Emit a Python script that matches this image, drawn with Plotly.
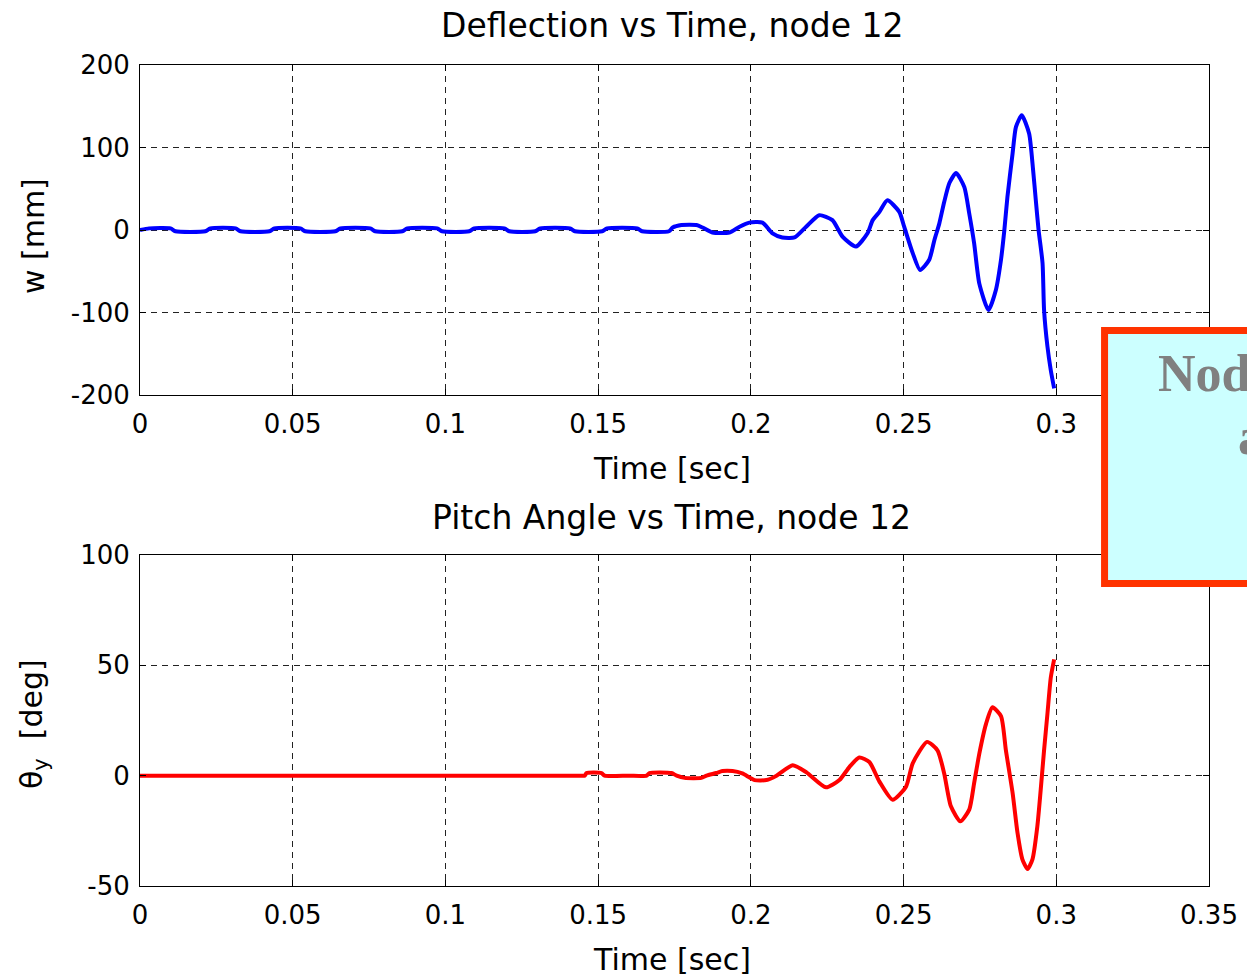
import plotly.graph_objects as go
from plotly.subplots import make_subplots

# ---- node 12 deflection w [mm] vs time [sec] ----
t_defl = [0.0000, 0.0030, 0.0100, 0.0116, 0.0214, 0.0230, 0.0313, 0.0329, 0.0424, 0.0440,
          0.0525, 0.0541, 0.0640, 0.0656, 0.0754, 0.0770, 0.0859, 0.0875, 0.0973, 0.0989,
          0.1078, 0.1094, 0.1193, 0.1209, 0.1294, 0.1310, 0.1408, 0.1424, 0.1513, 0.1529,
          0.1628, 0.1644, 0.1732, 0.1744, 0.1773, 0.1822, 0.1842, 0.1874, 0.1930, 0.1963,
          0.1995, 0.2038, 0.2071, 0.2103, 0.2143, 0.2181, 0.2224, 0.2267, 0.2300, 0.2344,
          0.2382, 0.2399, 0.2421, 0.2447, 0.2486, 0.2502, 0.2530, 0.2554, 0.2584, 0.2601,
          0.2617, 0.2633, 0.2650, 0.2672, 0.2699, 0.2715, 0.2731, 0.2748, 0.2778, 0.2802,
          0.2819, 0.2830, 0.2840, 0.2857, 0.2868, 0.2887, 0.2911, 0.2924, 0.2933, 0.2942,
          0.2955, 0.2960, 0.2971, 0.2982, 0.2993]
w_defl = [0, 2, 2, -1.5, -1.5, 2, 2, -1.5, -1.5, 2,
          2, -1.5, -1.5, 2, 2, -1.5, -1.5, 2, 2, -1.5,
          -1.5, 2, 2, -1.5, -1.5, 2, 2, -1.5, -1.5, 2,
          2, -1.5, -1.5, 3, 6, 6, 3, -3, -3, 4,
          9, 9, -4, -9, -9, 4, 18, 12, -8, -20,
          -4, 12, 22, 36, 22, 4, -28, -48.5, -36, -12,
          8, 34, 57, 69, 52, 20, -16, -65, -97, -73,
          -36, 0, 40, 93, 125, 139, 117, 73, 36, 0,
          -40, -97, -141, -170, -192]

# ---- node 12 pitch angle theta_y [deg] vs time [sec] ----
t_pitch = [0.0000, 0.0500, 0.1000, 0.1300, 0.1440, 0.1456, 0.1462, 0.1511, 0.1521, 0.1600,
           0.1659, 0.1668, 0.1740, 0.1757, 0.1783,
           0.1838, 0.1855, 0.1887, 0.1907, 0.1940, 0.1972, 0.2012, 0.2051, 0.2084, 0.2137,
           0.2182, 0.2246, 0.2290, 0.2323, 0.2355, 0.2388, 0.2421, 0.2464, 0.2508, 0.2530,
           0.2577, 0.2611, 0.2633, 0.2655, 0.2686, 0.2715, 0.2731, 0.2748, 0.2770, 0.2791,
           0.2819, 0.2835, 0.2857, 0.2873, 0.2889, 0.2906, 0.2922, 0.2938, 0.2949, 0.2960,
           0.2971, 0.2982, 0.2993]
theta_pitch = [0, 0, 0, 0, 0, 0, 1.2, 1.2, 0, 0,
               0, 1.2, 1.2, 0, -1,
               -1, 0, 1.2, 2.1, 2.1, 1, -2, -2, 0, 4.7,
               1.5, -5.3, -2, 4, 8.2, 6.2, -2.7, -10.9, -5, 5.6,
               15.3, 11.5, 1, -13.9, -20.7, -15.4, -3.4, 10, 23.5, 31,
               27, 11.5, -7.9, -25.9, -37.9, -42.3, -37.9, -22.9, -6.4, 11.5,
               28, 44.5, 52.7]

# ---- axis ticks ----
time_ticks = [0, 0.05, 0.1, 0.15, 0.2, 0.25, 0.3, 0.35]
time_labels = ["0", "0.05", "0.1", "0.15", "0.2", "0.25", "0.3", "0.35"]
# the last label of the upper time axis sits under the callout box
time_labels_upper = ["0", "0.05", "0.1", "0.15", "0.2", "0.25", "0.3", ""]
defl_ticks = [-200, -100, 0, 100, 200]
defl_labels = ["-200", "-100", "0", "100", "200"]
pitch_ticks = [-50, 0, 50, 100]
pitch_labels = ["-50", "0", "50", "100"]

FONT = "DejaVu Sans"

fig = make_subplots(rows=2, cols=1, vertical_spacing=0.1948)

fig.add_trace(go.Scatter(x=t_defl, y=w_defl, mode="lines",
                         line=dict(color="#0000ff", width=4, shape="spline", smoothing=0.6),
                         showlegend=False),
              row=1, col=1)
fig.add_trace(go.Scatter(x=t_pitch, y=theta_pitch, mode="lines",
                         line=dict(color="#ff0000", width=4, shape="spline", smoothing=0.6),
                         showlegend=False),
              row=2, col=1)

axis_common = dict(
    showline=True, linecolor="black", linewidth=1, mirror="ticks",
    ticks="inside", ticklen=6, tickcolor="black",
    showgrid=True, gridcolor="#222222", gridwidth=1, griddash="6px,5px",
    zeroline=False, automargin=False,
    tickfont=dict(family=FONT, size=26, color="black"),
)

fig.update_xaxes(range=[0, 0.35], tickvals=time_ticks, ticktext=time_labels,
                 ticklabelstandoff=6, **axis_common)
fig.update_xaxes(ticktext=time_labels_upper, row=1, col=1)
fig.update_yaxes(ticklabelstandoff=4, **axis_common)
fig.update_yaxes(range=[-200, 200], tickvals=defl_ticks, ticktext=defl_labels, row=1, col=1)
fig.update_yaxes(range=[-50, 100], tickvals=pitch_ticks, ticktext=pitch_labels, row=2, col=1)

fig.update_layout(
    width=1247, height=980,
    margin=dict(l=140, r=38, t=65, b=94, autoexpand=False),
    paper_bgcolor="white", plot_bgcolor="white",
    font=dict(family=FONT, color="black"),
)
fig.update_layout(yaxis=dict(domain=[0.598, 1.0]), yaxis2=dict(domain=[0.0, 0.4032]))

# titles and axis labels
def label(text, x, y, size, angle=0):
    fig.add_annotation(text=text, xref="paper", yref="paper", x=x, y=y,
                       xanchor="center", yanchor="middle", showarrow=False,
                       textangle=angle, font=dict(family=FONT, size=size, color="black"))

label("Deflection vs Time, node 12", 0.4972, 1.0487, 33)
label("Time [sec]", 0.4972, 0.5091, 30)
label("w [mm]", -0.100, 0.7917, 30, -90)
label("Pitch Angle vs Time, node 12", 0.4972, 0.4494, 33)
label("Time [sec]", 0.4972, -0.0901, 30)
label("θ<sub>y</sub>  [deg]", -0.100, 0.1973, 30, -90)

# callout box on the right
fig.add_shape(type="rect", xref="paper", yref="paper",
              x0=0.9023, x1=1.35, y0=0.3685, y1=0.6766,
              fillcolor="#ccffff", line=dict(color="#ff3300", width=7), layer="above")
fig.add_annotation(text="<b>Node 12 located</b>", xref="paper", yref="paper",
                   x=0.9505, y=0.6248, xanchor="left", yanchor="middle", showarrow=False,
                   font=dict(family="Liberation Serif", size=52, color="#808080"))
fig.add_annotation(text="<b>at wing tip</b>", xref="paper", yref="paper",
                   x=1.0252, y=0.5469, xanchor="left", yanchor="middle", showarrow=False,
                   font=dict(family="Liberation Serif", size=52, color="#808080"))

fig.write_html("out.html")
